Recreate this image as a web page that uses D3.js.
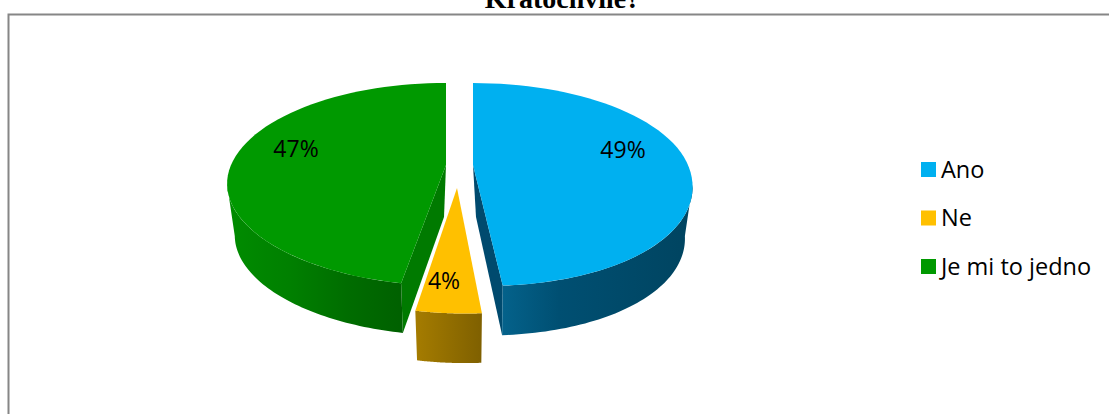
<!DOCTYPE html>
<html><head><meta charset="utf-8">
<script src="https://cdn.jsdelivr.net/npm/d3@7"></script>
<style>html,body{margin:0;background:#fff}svg{display:block}</style></head>
<body><svg id="c" width="1109" height="414"></svg>
<script>
const categories = ["Ano", "Ne", "Je mi to jedno"];
const values = [49, 4, 47];
const labels = ["49%", "4%", "47%"];
const colors = ["#00B0F0", "#FFC000", "#009900"];
const titleText = "Kratochvíle?";

const svg = d3.select("#c");
const W = 1109, H = 414;
const bodyFont = "'Open Sans','Noto Sans',sans-serif";

svg.append("path").attr("d", `M8.5 ${H}V14.5H${W}`).attr("fill", "none").attr("stroke", "#868686").attr("stroke-width", 2);
svg.append("text").attr("x", 562.5).attr("y", 8).attr("text-anchor", "middle")
  .attr("font-family", "'Liberation Serif',serif").attr("font-weight", "bold").attr("font-size", 28).text(titleText);

// perspective pie geometry
const cx = 459.5, cy = 165, rx0 = 215, ry0 = 97.7, k = 0.192, depth = 52;
const explodeX = [13.5, -2.5, -13.5], explodeY = [0, 23, 0];
const shear = 9;
const proj = (a, r, i, z) => {
  const u = r * Math.sin(a), v = r * Math.cos(a), s = 1 / (1 + k * v);
  const f = v < 0 ? v * v : 0;
  const apexDrift = (i === 0 ? 3 : i === 2 ? -2 : 0) * z * (1 - r);
  return [cx + explodeX[i] * (1 + 0.3 * f) + shear * f + rx0 * u * s * (1 - 0.035 * z) + apexDrift,
          cy + explodeY[i] * (1 + 0.2 * f) - ry0 * v * s * (1 - 0.02 * z) + depth * z];
};
const line = d3.line();
const pie = d3.pie().sort(null).value(d => d)(values);
const sample = (a0, a1) => d3.range(0, 61).map(j => a0 + (a1 - a0) * j / 60);
const silhouette = Math.acos(-k);

const defs = svg.append("defs");
const grad = (id, stops) => {
  const g = defs.append("linearGradient").attr("id", id);
  stops.forEach(([o, c]) => g.append("stop").attr("offset", o).attr("stop-color", c));
};
grad("wall0", [[0, "#04628b"], [0.3, "#004f72"], [1, "#004460"]]);
grad("wall1", [[0, "#a57c00"], [1, "#7f6000"]]);
grad("wall2", [[0, "#008c00"], [0.35, "#008000"], [0.7, "#006c00"], [1, "#006000"]]);
const cutColors = ["#004a6e", "#7f6000", "#007a00"];

const wall = (i, a0, a1) => {
  const top = sample(a0, a1).map(a => proj(a, 1, i, 0));
  const bot = sample(a1, a0).map(a => proj(a, 1, i, 1));
  svg.append("path").attr("d", line(top.concat(bot)) + "Z").attr("fill", `url(#wall${i})`);
};
const cut = (i, a) => {
  const pts = [proj(a, 0, i, 0), proj(a, 1, i, 0), proj(a, 1, i, 1), proj(a, 0, i, 1)];
  svg.append("path").attr("d", line(pts) + "Z").attr("fill", cutColors[i]);
};
const face = (i, d) => {
  const pts = [proj(0, 0, i, 0)].concat(sample(d.startAngle, d.endAngle).map(a => proj(a, 1, i, 0)));
  svg.append("path").attr("d", line(pts) + "Z").attr("fill", colors[i]);
};

// green, then blue, then yellow
[2, 0].forEach(i => {
  const d = pie[i];
  cut(i, i === 0 ? d.endAngle : d.startAngle);
  if (i === 0) wall(i, silhouette, d.endAngle);
  else wall(i, d.startAngle, 2 * Math.PI - silhouette);
  face(i, d);
});
wall(1, pie[1].startAngle, pie[1].endAngle);
face(1, pie[1]);

// data labels
const labelPos = [[623, 150], [444, 281], [296, 149]];
labels.forEach((t, i) => {
  svg.append("text").attr("x", labelPos[i][0]).attr("y", labelPos[i][1]).attr("dy", "0.36em")
    .attr("text-anchor", "middle").attr("font-family", bodyFont).attr("font-size", 23).attr("fill", "#000").text(t);
});

// legend
const legendY = d3.scalePoint().domain(categories).range([169.5, 266.5]);
categories.forEach((c, i) => {
  const y = legendY(c);
  svg.append("rect").attr("x", 921).attr("y", y - 7.5).attr("width", 15).attr("height", 15).attr("fill", colors[i]);
  svg.append("text").attr("x", 941).attr("y", y).attr("dy", "0.36em").attr("font-family", bodyFont)
    .attr("font-size", 23.5).attr("fill", "#000").text(c);
});
</script></body></html>
